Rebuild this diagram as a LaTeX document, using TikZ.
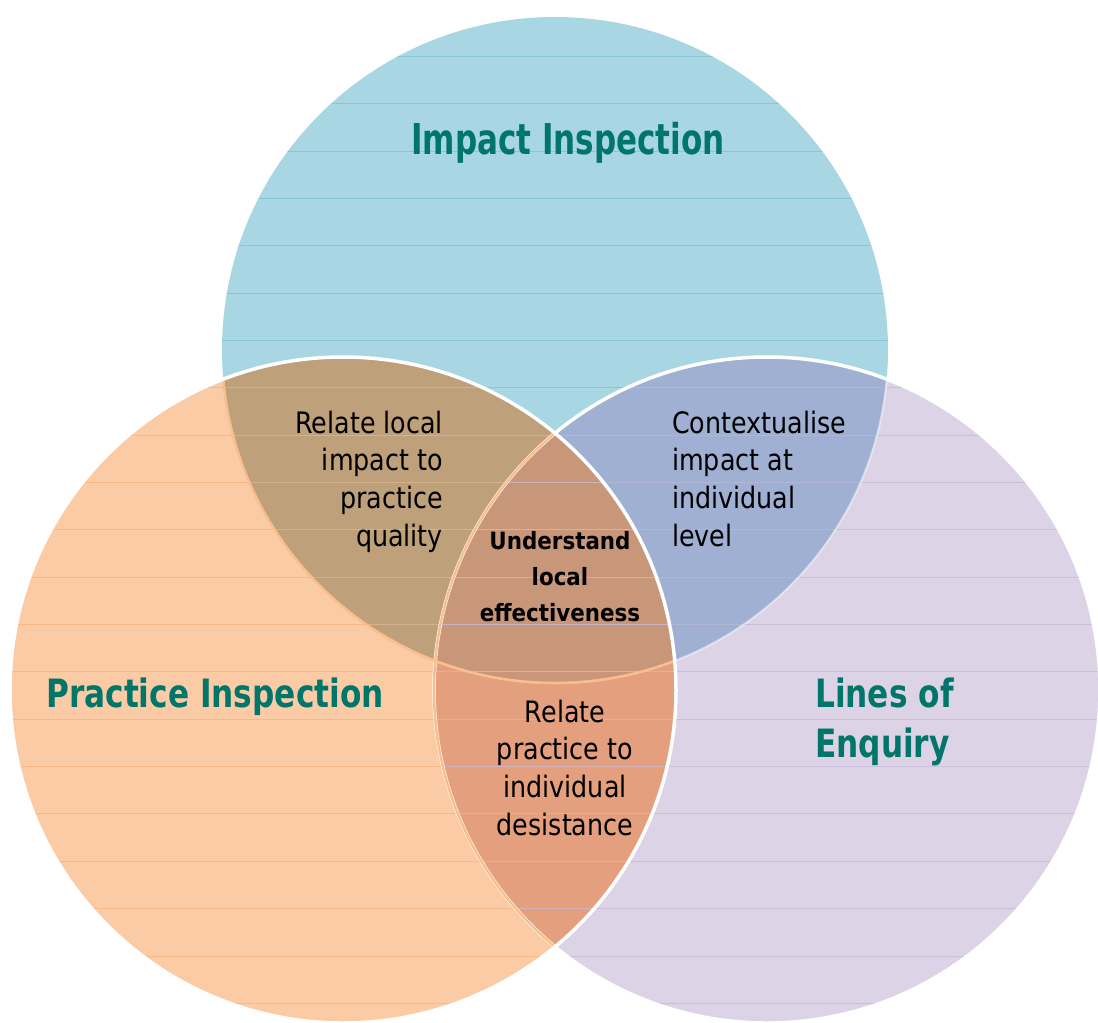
\documentclass[tikz,border=0pt]{standalone}
\usepackage{fontspec}
\setmainfont{DejaVu Sans}
\newfontfamily\kimpfont[FakeStretch=0.73]{DejaVu Sans}
\newfontfamily\kheadfont[FakeStretch=0.8]{DejaVu Sans}
\newfontfamily\kbodyfont[FakeStretch=0.86]{DejaVu Sans}
\newfontfamily\kmidfont[FakeStretch=0.9]{DejaVu Sans}
\definecolor{impfill}{RGB}{168,215,227}
\definecolor{impline}{RGB}{122,192,210}
\definecolor{pracfill}{RGB}{251,203,166}
\definecolor{pracline}{RGB}{247,176,122}
\definecolor{loefill}{RGB}{221,211,230}
\definecolor{loeline}{RGB}{196,181,216}
\definecolor{ipfill}{RGB}{190,160,122}
\definecolor{ilfill}{RGB}{160,176,210}
\definecolor{plfill}{RGB}{228,160,126}
\definecolor{allfill}{RGB}{200,150,121}
\definecolor{tint}{RGB}{248,190,142}
\definecolor{headteal}{RGB}{0,118,106}
\begin{document}
\begin{tikzpicture}[x=1pt,y=-1pt,
  rim/.style={draw=white,line width=3.5pt},
  stripe/.style={line width=1pt,opacity=0.7},
  headtxt/.style={text=headteal,inner sep=0pt,font=\kheadfont\bfseries\fontsize{39}{50}\selectfont},
  bodytxt/.style={inner sep=0pt,font=\kbodyfont\fontsize{29.5}{37.7}\selectfont}]
\pgfmathsetmacro{\krad}{333}
\pgfmathsetmacro{\kgap}{47.35}
\useasboundingbox (0,0) rectangle (1098,1023);
\coordinate (imp) at (555,350);
\coordinate (prac) at (343,690);
\coordinate (loe) at (767,690);
% circles and overlaps
\fill[impfill](imp) circle[radius=\krad pt];
\fill[pracfill](prac) circle[radius=\krad pt];
\fill[loefill](loe) circle[radius=\krad pt];
\begin{scope}\clip(imp) circle[radius=\krad pt];
\fill[ipfill](prac) circle[radius=\krad pt];
\fill[ilfill](loe) circle[radius=\krad pt];
\end{scope}
\begin{scope}\clip(prac) circle[radius=\krad pt];
\fill[plfill](loe) circle[radius=\krad pt];
\clip(imp) circle[radius=\krad pt];
\fill[allfill](loe) circle[radius=\krad pt];
\end{scope}
% stripes
\foreach \kc/\kcol in {imp/impline,prac/pracline,loe/loeline}{
\begin{scope}\clip(\kc) circle[radius=\krad pt];
\foreach \ky in {0,...,21}{\draw[stripe,\kcol](0,9+\ky*\kgap)--(1098,9+\ky*\kgap);}
\end{scope}}
% rims
\draw[rim](loe) circle[radius=\krad pt];
\begin{scope}\clip(loe) circle[radius=\krad pt];
\draw[rim,line width=2pt,draw opacity=0.5](imp) circle[radius=\krad pt];
\end{scope}
\begin{scope}\clip(prac) circle[radius=\krad pt];
\draw[rim,draw=tint,line width=2.5pt](imp) circle[radius=\krad pt] (loe) circle[radius=\krad pt];
\end{scope}
\draw[rim](prac) circle[radius=\krad pt];
% labels
\node[headtxt,font=\kimpfont\bfseries\fontsize{42.5}{50}\selectfont,anchor=base](impt) at (568,154){Impact Inspection};
\node[headtxt,anchor=base](pract) at (215,707){Practice Inspection};
\node[headtxt,align=left,anchor=north west](loet) at (815,677.4){Lines of\\Enquiry};
\node[bodytxt,align=right,anchor=north east](ipt) at (443,410.6){Relate local\\impact to\\practice\\quality};
\node[bodytxt,align=left,anchor=north west](ilt) at (672,410.6){Contextualise\\impact at\\individual\\level};
\node[bodytxt,align=center,anchor=north](plt) at (565,699.6){Relate\\practice to\\individual\\desistance};
\node[inner sep=0pt,align=center,anchor=north,font=\kmidfont\bfseries\fontsize{23.8}{36}\selectfont](allt) at (560,531){Understand\\local\\effectiveness};
\end{tikzpicture}
\end{document}
